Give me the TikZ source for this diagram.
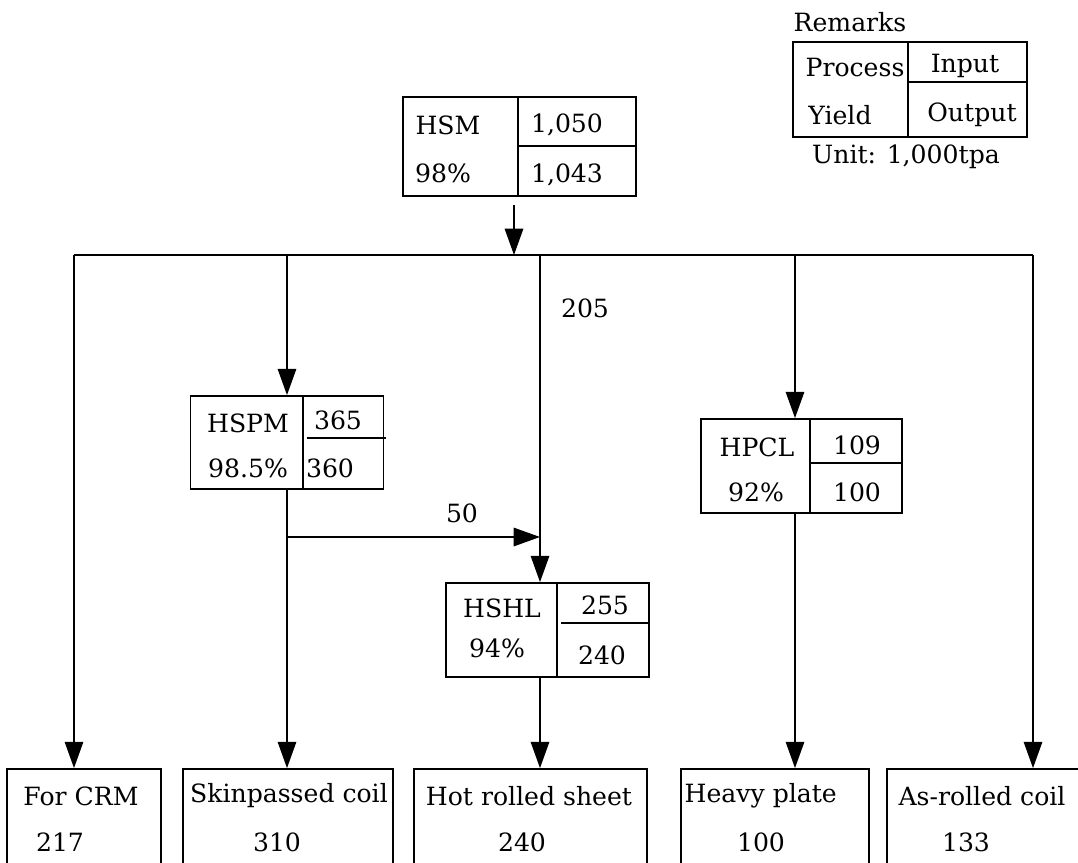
\documentclass[tikz,border=0pt]{standalone}
\usepackage{fontspec}
\setmainfont{DejaVu Serif}
\usetikzlibrary{arrows.meta, positioning, calc}

\begin{document}
\begin{tikzpicture}[x=0.02cm, y=-0.02cm, >={Triangle[length=15pt, width=10.5pt]},
  line width=1pt, font=\fontsize{14.3}{16}\selectfont,
  unit/.style={draw, rectangle, inner sep=0pt},
  txt/.style={inner sep=1pt},
  product/.style={draw, rectangle, inner sep=0pt, minimum height=2.4cm}]
  \useasboundingbox (0,0) rectangle (1078,862);

  % legend
  \node [txt] (remarks) at (850,22) {Remarks};
  \node [unit, minimum width=4.68cm, minimum height=1.9cm] (legend) at (910,89.5) {};
  \draw (908,42) -- (908,137);
  \draw (908,82) -- (1027,82);
  \node [txt] (lproc) at (855,68) {Process};
  \node [txt] (lin) at (965,66) {Input};
  \node [txt] (lyield) at (840,115) {Yield};
  \node [txt] (lout) at (972,115) {Output};
  \node [txt] (lunit) at (906,157) {Unit: 1,000tpa};

  % hot strip mill
  \node [unit, minimum width=4.66cm, minimum height=1.98cm] (hsm) at (519.5,146.5) {};
  \draw (518,97) -- (518,196);
  \draw (518,146) -- (636,146);
  \node [txt] (hsmname) at (448,125) {HSM};
  \node [txt] (hsmyield) at (443,173) {98\%};
  \node [txt] (hsmin) at (567,125) {1,050};
  \node [txt] (hsmout) at (567,175) {1,043};

  % skin pass mill
  \node [unit, minimum width=3.86cm, minimum height=1.86cm] (hspm) at (287,442.5) {};
  \draw (303,396) -- (303,489);
  \draw (307,438) -- (386,438);
  \node [txt] (hspmname) at (248,423) {HSPM};
  \node [txt] (hspmyield) at (248,468) {98.5\%};
  \node [txt] (hspmin) at (338,420) {365};
  \node [txt] (hspmout) at (330,468) {360};

  % shearing line
  \node [unit, minimum width=4.06cm, minimum height=1.88cm] (hshl) at (547.5,630) {};
  \draw (557,583) -- (557,677);
  \draw (561,623) -- (649,623);
  \node [txt] (hshlname) at (502,608) {HSHL};
  \node [txt] (hshlyield) at (497,648) {94\%};
  \node [txt] (hshlin) at (605,605) {255};
  \node [txt] (hshlout) at (602,655) {240};

  % plate cutting line
  \node [unit, minimum width=4.02cm, minimum height=1.88cm] (hpcl) at (801.5,466) {};
  \draw (810,419) -- (810,513);
  \draw (810,463) -- (902,463);
  \node [txt] (hpclname) at (757,447) {HPCL};
  \node [txt] (hpclyield) at (756,492) {92\%};
  \node [txt] (hpclin) at (857,445) {109};
  \node [txt] (hpclout) at (857,492) {100};

  % products
  \node [product, minimum width=3.08cm] (crm) at (84,829) {};
  \node [product, minimum width=4.2cm] (skin) at (288,829) {};
  \node [product, minimum width=4.66cm] (sheet) at (530.5,829) {};
  \node [product, minimum width=3.76cm] (plate) at (775,829) {};
  \node [product, minimum width=4.4cm] (coil) at (997,829) {};
  \node [txt] (crmname) at (81,796) {For CRM};
  \node [txt] (crmval) at (60,842) {217};
  \node [txt] (skinname) at (289,796) {Skinpassed coil};
  \node [txt] (skinval) at (277,842) {310};
  \node [txt] (sheetname) at (529,796) {Hot rolled sheet};
  \node [txt] (sheetval) at (522,842) {240};
  \node [txt, anchor=west] (platename) at (682,796) {Heavy plate};
  \node [txt] (plateval) at (761,842) {100};
  \node [txt] (coilname) at (982,796) {As-rolled coil};
  \node [txt] (coilval) at (966,842) {133};

  % flows
  \coordinate (busL) at (74,255);
  \coordinate (busR) at (1033,255);
  \coordinate (trunk) at (540,255);
  \coordinate (platetap) at (795,255);
  \coordinate (hsmdrop) at (514,205);
  \coordinate (split) at (287,537);
  \draw (busL) -- (busR);
  \draw [->] (hsmdrop) -- (hsmdrop |- busL);
  \draw [->] (busL) -- (busL |- crm.north);
  \draw [->] (busL -| hspm.north) -- (hspm.north);
  \draw [->] (trunk) -- (trunk |- hshl.north);
  \draw [->] (platetap) -- (platetap |- hpcl.north);
  \draw [->] (busR) -- (busR |- coil.north);
  \draw [->] (hspm.south) -- (hspm.south |- skin.north);
  \draw [->] (split) -- (split -| trunk);
  \draw [->] (trunk |- hshl.south) -- (trunk |- sheet.north);
  \draw [->] (platetap |- hpcl.south) -- (platetap |- plate.north);
  \node [txt] (f205) at (585,308) {205};
  \node [txt] (f50) at (462,513) {50};
\end{tikzpicture}
\end{document}
